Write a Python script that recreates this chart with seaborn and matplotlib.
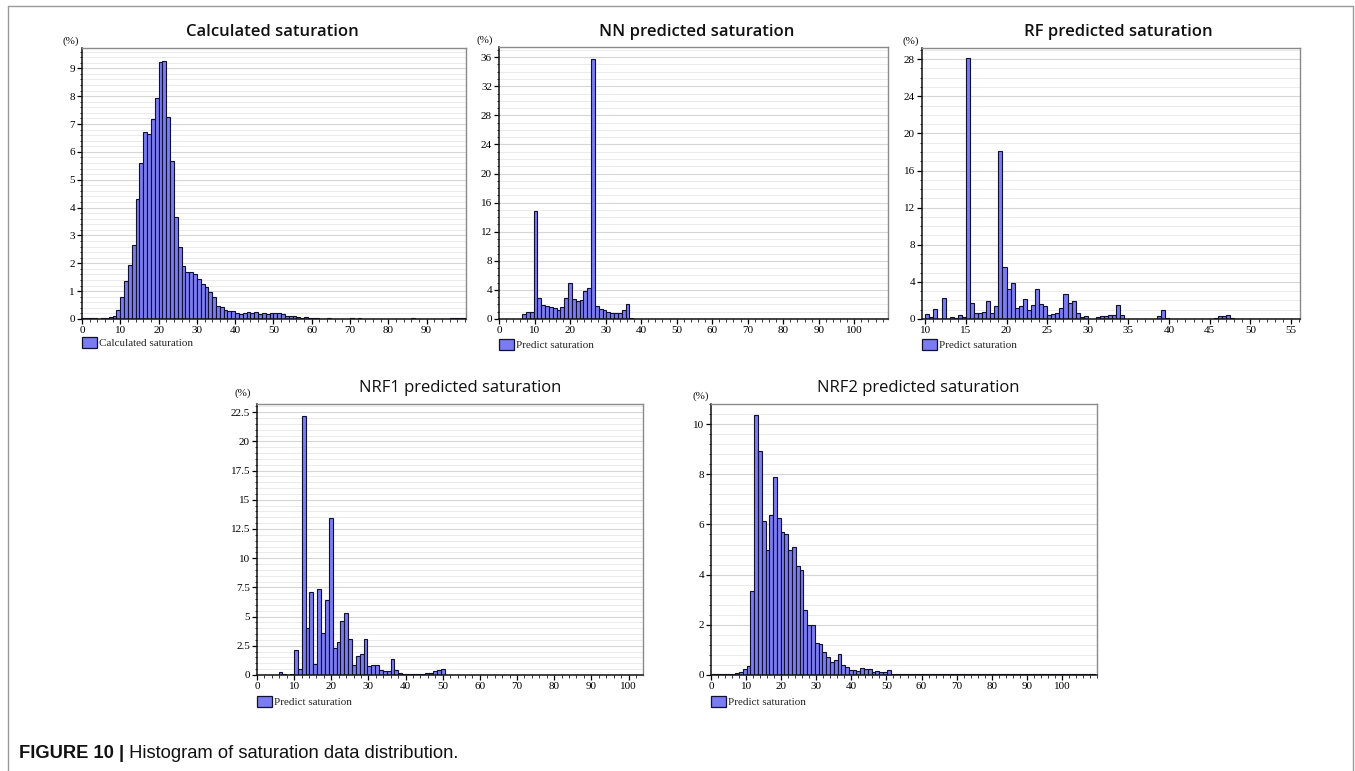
import numpy as np
import pandas as pd
import matplotlib
matplotlib.use("Agg")
import matplotlib.pyplot as plt
import seaborn as sns
from matplotlib.patches import Patch
from matplotlib.lines import Line2D
from matplotlib.ticker import MultipleLocator, FuncFormatter

# ---------------- data (bar heights in %, one value per histogram bin) -------------
titles = ["Calculated saturation", "NN predicted saturation", "RF predicted saturation",
          "NRF1 predicted saturation", "NRF2 predicted saturation"]
legend_labels = ["Calculated saturation", "Predict saturation", "Predict saturation",
                 "Predict saturation", "Predict saturation"]
caption_bold = "FIGURE 10 |"
caption_text = " Histogram of saturation data distribution."

calc_start, calc_width = 0.0, 1.0
calc_heights = [0.04, 0.04, 0.03, 0.02, 0.0, 0.02, 0.05, 0.08, 0.12, 0.33,
                0.8, 1.36, 1.93, 2.66, 4.3, 5.6, 6.7, 6.63, 7.17, 7.95,
                9.23, 9.27, 7.24, 5.68, 3.67, 2.6, 1.9, 1.69, 1.67, 1.61,
                1.42, 1.27, 1.14, 0.96, 0.79, 0.48, 0.44, 0.32, 0.3, 0.29,
                0.23, 0.18, 0.23, 0.24, 0.23, 0.26, 0.18, 0.23, 0.18, 0.2,
                0.2, 0.2, 0.18, 0.12, 0.12, 0.1, 0.08, 0.05, 0.06, 0.04,
                0.05, 0.02, 0.0, 0.01, 0.03, 0.0, 0.01, 0.0, 0.0, 0.01,
                0.03, 0.01, 0.03, 0.0, 0.0, 0.01, 0.0, 0.0, 0.0, 0.01,
                0.0, 0.0, 0.0, 0.0, 0.0, 0.01, 0.03, 0.0, 0.0, 0.0,
                0.0, 0.0, 0.0, 0.0, 0.0, 0.0, 0.02, 0.03, 0.02, 0.03]

nn_start, nn_width = 0.0, 1.08
nn_heights = [0.05, 0.05, 0.05, 0.05, 0.05, 0.05, 0.7, 0.9, 1.0, 14.8,
              2.9, 1.9, 1.8, 1.6, 1.5, 1.3, 1.6, 2.9, 4.9, 2.7,
              2.5, 2.6, 3.8, 4.2, 35.7, 1.8, 1.4, 1.2, 1.0, 0.85,
              0.85, 0.85, 1.3, 2.1, 0.1, 0.05, 0.05, 0.05] + [0.0] * 62

rf_start, rf_width = 10.0, 0.5
rf_heights = [0.5, 0.25, 1.1, 0.02, 2.3, 0.05, 0.2, 0.15, 0.4, 0.2,
              28.1, 1.7, 0.7, 0.7, 0.8, 1.9, 0.6, 1.45, 18.1, 5.55,
              3.2, 3.9, 1.2, 1.45, 2.15, 1.0, 1.5, 3.2, 1.6, 1.4,
              0.4, 0.55, 0.6, 1.2, 2.65, 1.7, 1.9, 0.6, 0.25, 0.3,
              0.05, 0.05, 0.25, 0.3, 0.35, 0.4, 0.45, 1.55, 0.4, 0.05,
              0.05, 0.05, 0.05, 0.05, 0.05, 0.05, 0.05, 0.3, 1.0, 0.1,
              0.05, 0.05, 0.05, 0.05, 0.05, 0.05, 0.05, 0.05, 0.05, 0.02,
              0.02, 0.15, 0.3, 0.35, 0.45, 0.1, 0.05, 0.05, 0.05, 0.05,
              0.02, 0.02, 0.02, 0.05, 0.02, 0.02, 0.02, 0.02, 0.02, 0.05,
              0.05, 0.02]

nrf1_start, nrf1_width = 0.6, 1.04
nrf1_heights = [0.03, 0.03, 0.03, 0.03, 0.03, 0.25, 0.05, 0.02, 0.1, 2.1,
                0.5, 22.2, 4.05, 7.1, 0.9, 7.4, 3.6, 6.4, 13.4, 2.3,
                2.8, 4.6, 5.3, 3.05, 0.85, 1.65, 1.8, 3.05, 0.8, 0.85,
                0.85, 0.4, 0.3, 0.35, 1.4, 0.4, 0.2, 0.1, 0.1, 0.1,
                0.1, 0.1, 0.1, 0.15, 0.2, 0.3, 0.4, 0.5] + [0.03] * 51

nrf2_start, nrf2_width = 0.42, 1.08
nrf2_heights = [0.02, 0.02, 0.02, 0.02, 0.02, 0.02, 0.07, 0.13, 0.23, 0.36,
                3.36, 10.36, 8.94, 6.14, 5.0, 6.36, 7.88, 6.24, 5.7, 5.6,
                5.0, 5.1, 4.35, 4.18, 2.6, 1.98, 2.0, 1.26, 1.23, 0.9,
                0.7, 0.5, 0.6, 0.84, 0.4, 0.33, 0.2, 0.2, 0.17, 0.27,
                0.23, 0.23, 0.13, 0.17, 0.1, 0.13, 0.2] + [0.02] * 54

# ---------------- style -------------
sns.set_theme(style="white")
plt.rcParams['font.family'] = ['Liberation Serif', 'DejaVu Serif']
BAR = "#7b7bf2"

W, H = 1355, 771
fig = plt.figure(figsize=(W / 100, H / 100), dpi=100)
fig.patch.set_facecolor("white")


def fx(x):
    return x / W


def fy(y):
    return 1 - y / H


panels = [
    dict(box=(82, 48, 466, 319), start=calc_start, width=calc_width, h=calc_heights,
         xlim=(0, 100.3), xmaj=10, xmin=2, xmax_tick=90, xmin_tick=0,
         ylim=(0, 9.73), ymaj=1, ymin=0.2, title_xy=(272, 32), pct_xy=(71, 41),
         leg_y=337, weight="semibold"),
    dict(box=(499, 47, 888, 319), start=nn_start, width=nn_width, h=nn_heights,
         xlim=(0, 109.5), xmaj=10, xmin=2, xmax_tick=100, xmin_tick=0,
         ylim=(0, 37.4), ymaj=4, ymin=1, title_xy=(697, 32), pct_xy=(485, 40),
         leg_y=339, weight="semibold"),
    dict(box=(922, 48, 1300, 319), start=rf_start, width=rf_width, h=rf_heights,
         xlim=(9.6, 56.1), xmaj=5, xmin=1, xmax_tick=55, xmin_tick=10,
         ylim=(0, 29.2), ymaj=4, ymin=1, title_xy=(1118, 32), pct_xy=(911, 41),
         leg_y=339, weight="semibold"),
    dict(box=(257, 404, 643, 675), start=nrf1_start, width=nrf1_width, h=nrf1_heights,
         xlim=(0, 103.9), xmaj=10, xmin=2, xmax_tick=100, xmin_tick=0,
         ylim=(0, 23.2), ymaj=2.5, ymin=0.5, title_xy=(460, 388), pct_xy=(243, 393),
         leg_y=696, weight="normal"),
    dict(box=(711, 404, 1097, 675), start=nrf2_start, width=nrf2_width, h=nrf2_heights,
         xlim=(0, 110), xmaj=10, xmin=2, xmax_tick=100, xmin_tick=0,
         ylim=(0, 10.8), ymaj=2, ymin=0.4, title_xy=(918, 388), pct_xy=(701, 396),
         leg_y=696, weight="normal"),
]

for i, p in enumerate(panels):
    l, t, r, b = p["box"]
    ax = fig.add_axes([fx(l), fy(b), fx(r) - fx(l), (b - t) / H])
    heights = [float(v) for v in p["h"]]
    n = len(heights)
    edges = [float(p["start"] + p["width"] * k) for k in range(n + 1)]
    centers = [(edges[k] + edges[k + 1]) / 2 for k in range(n)]
    df = pd.DataFrame({"sat": centers, "pct": heights})
    sns.histplot(data=df, x="sat", weights="pct", bins=edges, ax=ax, stat="count",
                 color=BAR, edgecolor="#101030", linewidth=0.8, alpha=1.0)
    ax.set_xlim(*p["xlim"])
    ax.set_ylim(*p["ylim"])
    ax.set_xlabel("")
    ax.set_ylabel("")
    ax.set_xticks(np.arange(p["xmin_tick"], p["xmax_tick"] + 0.01, p["xmaj"]))
    ax.xaxis.set_minor_locator(MultipleLocator(p["xmin"]))
    ax.yaxis.set_major_locator(MultipleLocator(p["ymaj"]))
    ax.yaxis.set_minor_locator(MultipleLocator(p["ymin"]))
    ax.yaxis.set_major_formatter(FuncFormatter(lambda v, pos: f"{v:g}"))
    ax.tick_params(axis="both", which="major", direction="out", length=3.5, width=0.9,
                   labelsize=8, colors="black", pad=1.5, bottom=True, left=True)
    ax.tick_params(axis="both", which="minor", direction="out", length=1.8, width=0.7,
                   colors="#333333", bottom=True, left=True)
    ax.set_axisbelow(True)
    ax.grid(which="major", axis="y", color="#d6d6d6", lw=0.8)
    ax.grid(which="minor", axis="y", color="#e8e8e8", lw=0.6)
    ax.set_facecolor("white")
    for s in ("left", "bottom"):
        ax.spines[s].set_color("#111111")
        ax.spines[s].set_linewidth(1.1)
    for s in ("top", "right"):
        ax.spines[s].set_color("#8a8a8a")
        ax.spines[s].set_linewidth(1.0)
    for s in ax.spines.values():
        s.set_visible(True)

    fig.text(fx(p["title_xy"][0]), fy(p["title_xy"][1]), titles[i],
             ha="center", va="center", fontsize=12, fontweight=p["weight"],
             family=["Open Sans", "DejaVu Sans"], color="#111111")
    fig.text(fx(p["pct_xy"][0]), fy(p["pct_xy"][1]), "(%)",
             ha="center", va="center", fontsize=8, color="#111111")

    handle = Patch(facecolor=BAR, edgecolor="#101030", linewidth=0.9)
    ax.legend(handles=[handle], labels=[legend_labels[i]], loc="upper left",
              bbox_to_anchor=(fx(l), fy(p["leg_y"])), bbox_transform=fig.transFigure,
              frameon=False, fontsize=8, handlelength=1.35, handleheight=1.1,
              handletextpad=0.2, borderpad=0, borderaxespad=0)

# figure frame
frame_color = "#9a9a9a"
fig.add_artist(Line2D([fx(8), fx(8)], [fy(6), 0], color=frame_color, lw=1.0))
fig.add_artist(Line2D([fx(8), fx(1353)], [fy(6), fy(6)], color=frame_color, lw=1.0))
fig.add_artist(Line2D([fx(1353), fx(1353)], [fy(6), 0], color=frame_color, lw=1.0))

# caption
cap_font = ["Liberation Sans", "DejaVu Sans"]
t1 = fig.text(fx(19), fy(758), caption_bold, ha="left", va="baseline", fontsize=13.2,
              fontweight="bold", family=cap_font, color="#111111")
fig.canvas.draw()
bb = t1.get_window_extent(renderer=fig.canvas.get_renderer())
fig.text(bb.x1 / W, fy(758), caption_text, ha="left", va="baseline", fontsize=13.2,
         family=cap_font, color="#111111")

fig.savefig("out.png", dpi=100)
